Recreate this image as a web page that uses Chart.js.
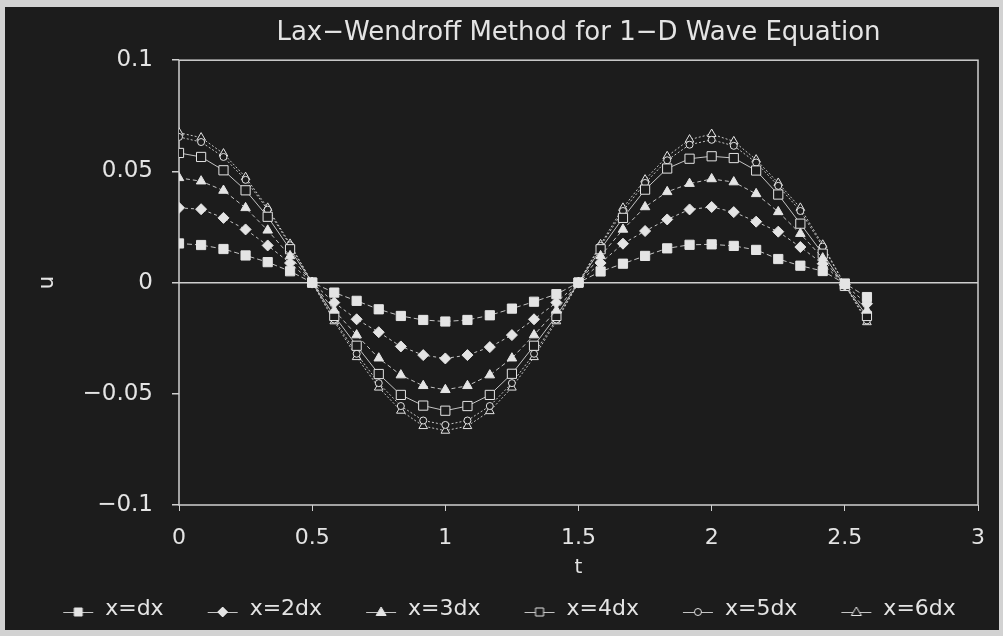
<!DOCTYPE html>
<html>
<head>
<meta charset="utf-8">
<script src="https://cdn.jsdelivr.net/npm/chart.js@4.4.1/dist/chart.umd.min.js"></script>
<style>
  html, body { margin: 0; padding: 0; background: #d2d2d2; }
  #frame { position: absolute; left: 5px; top: 7px; width: 994px; height: 623px; background: #1c1c1c; }
</style>
</head>
<body>
<div id="frame"><canvas id="waveChart"></canvas></div>
<script>
// ================= DATA =================
const tValues = [0, 0.083, 0.167, 0.25, 0.333, 0.417, 0.5, 0.583, 0.667, 0.75, 0.833, 0.917,
                 1, 1.083, 1.167, 1.25, 1.333, 1.417, 1.5, 1.583, 1.667, 1.75, 1.833, 1.917,
                 2, 2.083, 2.167, 2.25, 2.333, 2.417, 2.5, 2.583];

const u1 = [0.0176, 0.0169, 0.0151, 0.0122, 0.0092, 0.0051, 0.0000, -0.0045, -0.0082, -0.0120, -0.0150, -0.0168,
            -0.0175, -0.0168, -0.0147, -0.0117, -0.0086, -0.0052, 0.0000, 0.0050, 0.0085, 0.0120, 0.0154, 0.0170,
            0.0172, 0.0165, 0.0147, 0.0106, 0.0076, 0.0052, -0.0004, -0.0065];
const u2 = [0.0336, 0.0330, 0.0291, 0.0239, 0.0167, 0.0088, 0.0000, -0.0090, -0.0165, -0.0223, -0.0287, -0.0326,
            -0.0341, -0.0326, -0.0290, -0.0236, -0.0165, -0.0090, 0.0000, 0.0088, 0.0175, 0.0232, 0.0284, 0.0329,
            0.0340, 0.0317, 0.0274, 0.0229, 0.0160, 0.0085, -0.0010, -0.0095];
const u3 = [0.0471, 0.0456, 0.0414, 0.0336, 0.0235, 0.0120, 0.0000, -0.0125, -0.0236, -0.0340, -0.0416, -0.0464,
            -0.0482, -0.0464, -0.0416, -0.0340, -0.0236, -0.0125, 0.0000, 0.0120, 0.0239, 0.0340, 0.0408, 0.0445,
            0.0466, 0.0452, 0.0399, 0.0318, 0.0220, 0.0110, -0.0015, -0.0125];
const u4 = [0.0583, 0.0565, 0.0505, 0.0415, 0.0296, 0.0150, 0.0000, -0.0150, -0.0284, -0.0411, -0.0505, -0.0553,
            -0.0576, -0.0555, -0.0505, -0.0410, -0.0284, -0.0150, 0.0000, 0.0150, 0.0291, 0.0418, 0.0513, 0.0557,
            0.0568, 0.0560, 0.0504, 0.0396, 0.0265, 0.0130, -0.0015, -0.0150];
const u5 = [0.0655, 0.0632, 0.0565, 0.0462, 0.0328, 0.0168, 0.0000, -0.0166, -0.0320, -0.0452, -0.0555, -0.0620,
            -0.0640, -0.0620, -0.0555, -0.0452, -0.0320, -0.0166, 0.0000, 0.0165, 0.0322, 0.0448, 0.0550, 0.0620,
            0.0642, 0.0615, 0.0540, 0.0435, 0.0322, 0.0162, -0.0010, -0.0170];
const u6 = [0.0674, 0.0652, 0.0580, 0.0474, 0.0336, 0.0174, 0.0000, -0.0174, -0.0335, -0.0472, -0.0576, -0.0645,
            -0.0666, -0.0645, -0.0578, -0.0472, -0.0335, -0.0174, 0.0000, 0.0172, 0.0336, 0.0463, 0.0568, 0.0643,
            0.0668, 0.0635, 0.0553, 0.0448, 0.0336, 0.0170, -0.0010, -0.0178];

const seriesNames = ['x=dx', 'x=2dx', 'x=3dx', 'x=4dx', 'x=5dx', 'x=6dx'];

const xTicks = [0, 0.5, 1, 1.5, 2, 2.5, 3];
const xTickLabels = ['0', '0.5', '1', '1.5', '2', '2.5', '3'];
const yTicks = [0.1, 0.05, 0, -0.05, -0.1];
const yTickLabels = ['0.1', '0.05', '0', '\u22120.05', '\u22120.1'];

// ================= STYLE =================
const bg = '#1c1c1c';
const ink = '#e4e4e4';
const lineCol = '#c4c4c4';
const font = 'DejaVu Sans';

// marker look per series: [pointStyle, radius, filled, dash]
const markers = [
    ['rect', 6.5, true, [5, 3]],
    ['rectRot', 5.5, true, [3, 3]],
    ['triangle', 5.5, true, [4, 3]],
    ['rect', 6.5, false, []],
    ['circle', 3.5, false, [2, 2]],
    ['triangle', 5, false, [2, 2]]
];

// legend icon: short line with the marker on it
function legendIcon(style, filled) {
    const cv = document.createElement('canvas');
    cv.width = 64; cv.height = 18;
    const c = cv.getContext('2d');
    const cx = 48, cy = 12;
    c.strokeStyle = lineCol; c.lineWidth = 1;
    c.beginPath(); c.moveTo(33, cy + 0.5); c.lineTo(63, cy + 0.5); c.stroke();
    c.fillStyle = filled ? ink : bg;
    c.strokeStyle = ink;
    c.beginPath();
    if (style === 'rect') {
        c.rect(cx - 4, cy - 4, 8, 8);
    } else if (style === 'rectRot') {
        c.moveTo(cx, cy - 5); c.lineTo(cx + 5, cy); c.lineTo(cx, cy + 5); c.lineTo(cx - 5, cy); c.closePath();
    } else if (style === 'triangle') {
        c.moveTo(cx, cy - 5); c.lineTo(cx + 5, cy + 3.5); c.lineTo(cx - 5, cy + 3.5); c.closePath();
    } else {
        c.arc(cx, cy, 3.5, 0, Math.PI * 2);
    }
    c.fill(); c.stroke();
    return cv;
}

const allSeries = [u1, u2, u3, u4, u5, u6];
const datasets = allSeries.map((vals, i) => {
    const m = markers[i];
    return {
        label: seriesNames[i],
        data: tValues.map((t, j) => ({ x: t, y: vals[j] })),
        borderColor: lineCol,
        borderWidth: 1,
        borderDash: m[3],
        pointStyle: m[0],
        pointRadius: m[1],
        pointBackgroundColor: m[2] ? ink : bg,
        pointBorderColor: ink,
        pointBorderWidth: 1,
        tension: 0,
        fill: false
    };
});

// frame round the plot area
const plotBox = {
    id: 'plotBox',
    beforeDatasetsDraw(chart) {
        const a = chart.chartArea, c = chart.ctx;
        c.save();
        c.strokeStyle = '#cfcfcf';
        c.lineWidth = 1.5;
        c.strokeRect(a.left, a.top, a.right - a.left, a.bottom - a.top);
        c.restore();
    }
};

const ctx = document.getElementById('waveChart').getContext('2d');
new Chart(ctx, {
    type: 'line',
    data: { datasets: datasets },
    plugins: [plotBox],
    options: {
        responsive: true,
        maintainAspectRatio: false,
        animation: false,
        layout: { padding: { left: 0, right: 18, top: 0, bottom: 0 } },
        plugins: {
            title: {
                display: true,
                text: 'Lax\u2212Wendroff Method for 1\u2212D Wave Equation',
                color: ink,
                fullSize: false,
                font: { family: font, size: 26, weight: 'normal' },
                padding: { top: 11, bottom: 11 }
            },
            legend: {
                position: 'bottom',
                labels: {
                    color: ink,
                    font: { family: font, size: 22 },
                    usePointStyle: true,
                    pointStyleWidth: 64,
                    padding: 11,
                    generateLabels: (chart) => chart.data.datasets.map((ds, i) => ({
                        text: ds.label,
                        fontColor: ink,
                        pointStyle: legendIcon(markers[i][0], markers[i][2]),
                        lineWidth: 0,
                        strokeStyle: 'transparent',
                        fillStyle: 'transparent',
                        datasetIndex: i
                    }))
                }
            },
            tooltip: { enabled: false }
        },
        scales: {
            x: {
                type: 'linear',
                min: 0, max: 3,
                afterBuildTicks: (s) => { s.ticks = xTicks.map(v => ({ value: v })); },
                afterFit: (s) => { s.height = 82; },
                ticks: {
                    color: ink,
                    font: { family: font, size: 22 },
                    padding: 14,
                    maxRotation: 0,
                    callback: (v) => { const i = xTicks.findIndex(t => Math.abs(t - v) < 1e-9); return i >= 0 ? xTickLabels[i] : ''; }
                },
                grid: { drawOnChartArea: false, color: '#cfcfcf', tickLength: 6 },
                border: { display: false },
                title: { display: true, text: 't', color: ink, font: { family: font, size: 20 }, padding: { top: 0, bottom: 7 } }
            },
            y: {
                min: -0.1, max: 0.1,
                afterBuildTicks: (s) => { s.ticks = yTicks.map(v => ({ value: v })); },
                afterFit: (s) => { s.width = 174; },
                ticks: {
                    color: ink,
                    font: { family: font, size: 23 },
                    padding: 19,
                    callback: (v) => { const i = yTicks.findIndex(t => Math.abs(t - v) < 1e-9); return i >= 0 ? yTickLabels[i] : ''; }
                },
                grid: {
                    color: (c) => (c.tick && c.tick.value === 0 ? '#cfcfcf' : 'transparent'),
                    tickColor: '#cfcfcf',
                    tickLength: 7,
                    lineWidth: 1.5
                },
                border: { display: false },
                title: { display: true, text: 'u', color: ink, font: { family: font, size: 21 }, padding: { top: 30, bottom: 0 } }
            }
        }
    }
});
</script>
</body>
</html>
